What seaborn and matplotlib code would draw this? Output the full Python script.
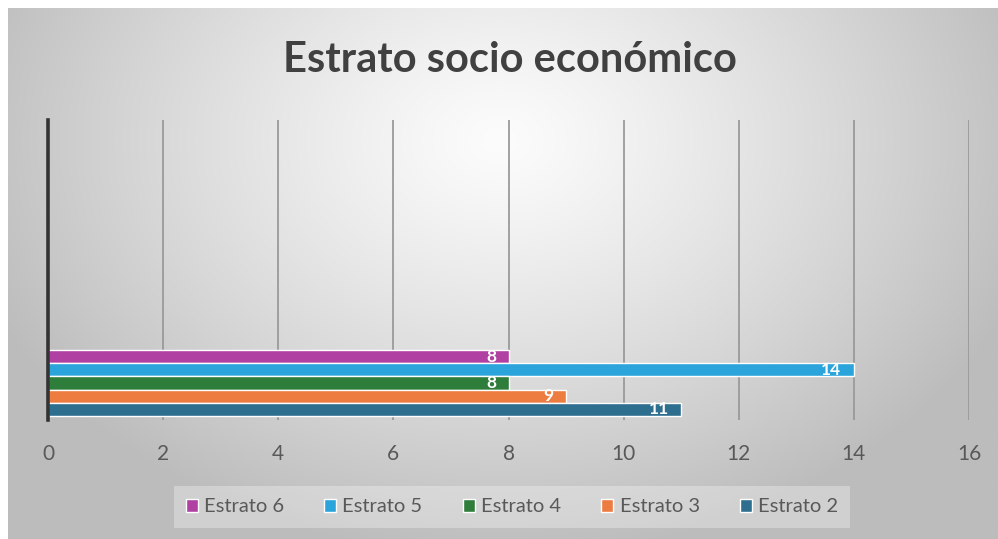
import numpy as np
import pandas as pd
import matplotlib
matplotlib.use("Agg")
import matplotlib.pyplot as plt
import seaborn as sns

# Data
estratos = ["Estrato 6", "Estrato 5", "Estrato 4", "Estrato 3", "Estrato 2"]
valores = [8, 14, 8, 9, 11]
colores = ["#B040A2", "#2AA4DA", "#2F7D3B", "#EC7C40", "#2E6E8E"]
x_ticks = [0, 2, 4, 6, 8, 10, 12, 14, 16]
titulo = "Estrato socio económico"

df = pd.DataFrame({"grupo": [""] * len(estratos), "estrato": estratos, "valor": valores})

W, H = 998, 539
fig = plt.figure(figsize=(W / 100, H / 100), dpi=100)
fig.patch.set_facecolor("white")

# Radial grey gradient background
bg = fig.add_axes([8 / W, 0, (W - 8) / W, (H - 8) / H], zorder=0)
gx, gy = np.meshgrid(np.linspace(8, W, 600), np.linspace(8, H, 330))
d = np.sqrt(((gx - 500) / 560) ** 2 + ((gy - 140) / 420) ** 2)
shade = 252 - 64 * np.clip(d, 0, 1) ** 1.2
img = np.dstack([shade, shade, shade]) / 255.0
bg.imshow(img, aspect="auto", extent=[0, 1, 0, 1], origin="upper")
bg.set_axis_off()

ax = fig.add_axes([48 / W, 1 - 420 / H, 921 / W, 300 / H], zorder=1)
ax.patch.set_alpha(0)

sns.barplot(data=df, x="valor", y="grupo", hue="estrato", hue_order=estratos,
            palette=colores, orient="h", width=0.8, edgecolor="white",
            linewidth=1.0, ax=ax, legend=True, saturation=1)

ax.set_xlim(0, 16)
ax.set_ylim(0.448, -3.188)
ax.set_xticks(x_ticks)
ax.set_xticklabels([str(t) for t in x_ticks])
ax.set_yticks([])
ax.set_xlabel("")
ax.set_ylabel("")
for t in x_ticks[1:]:
    ax.axvline(t, color="#9a9a9a", lw=1.3, zorder=0)
for s in ["top", "right", "bottom"]:
    ax.spines[s].set_visible(False)
ax.spines["left"].set_color("#333333")
ax.spines["left"].set_linewidth(2.6)
ax.tick_params(axis="x", length=0, pad=17, labelsize=15, labelcolor="#595959")
for lbl in ax.get_xticklabels():
    lbl.set_family("Lato")

# Value labels inside the bar ends
for cont in ax.containers:
    for bar in cont:
        v = bar.get_width()
        yc = bar.get_y() + bar.get_height() / 2
        ax.annotate(f"{v:g}", (v, yc), xytext=(-9, 0), textcoords="offset points",
                    ha="right", va="center", color="white", fontsize=12.5,
                    fontweight="bold", family="Lato")

fig.text(510 / W, 1 - 72.5 / H, titulo, ha="center", va="baseline", fontsize=30,
         fontweight="bold", color="#404040", family="Lato")

handles, labels = ax.get_legend_handles_labels()
ax.legend_.remove()
leg = fig.legend(handles, labels, loc="center", bbox_to_anchor=(512 / W, 1 - 507 / H),
                 ncol=5, frameon=True, fancybox=False, handlelength=0.6,
                 handleheight=0.6, handletextpad=0.3, columnspacing=2.0,
                 prop={"family": "Lato", "size": 14.5}, borderpad=0.6)
leg.get_frame().set_facecolor("white")
leg.get_frame().set_alpha(0.3)
leg.get_frame().set_edgecolor("none")
for t in leg.get_texts():
    t.set_color("#595959")

fig.savefig("out.png", dpi=100)
